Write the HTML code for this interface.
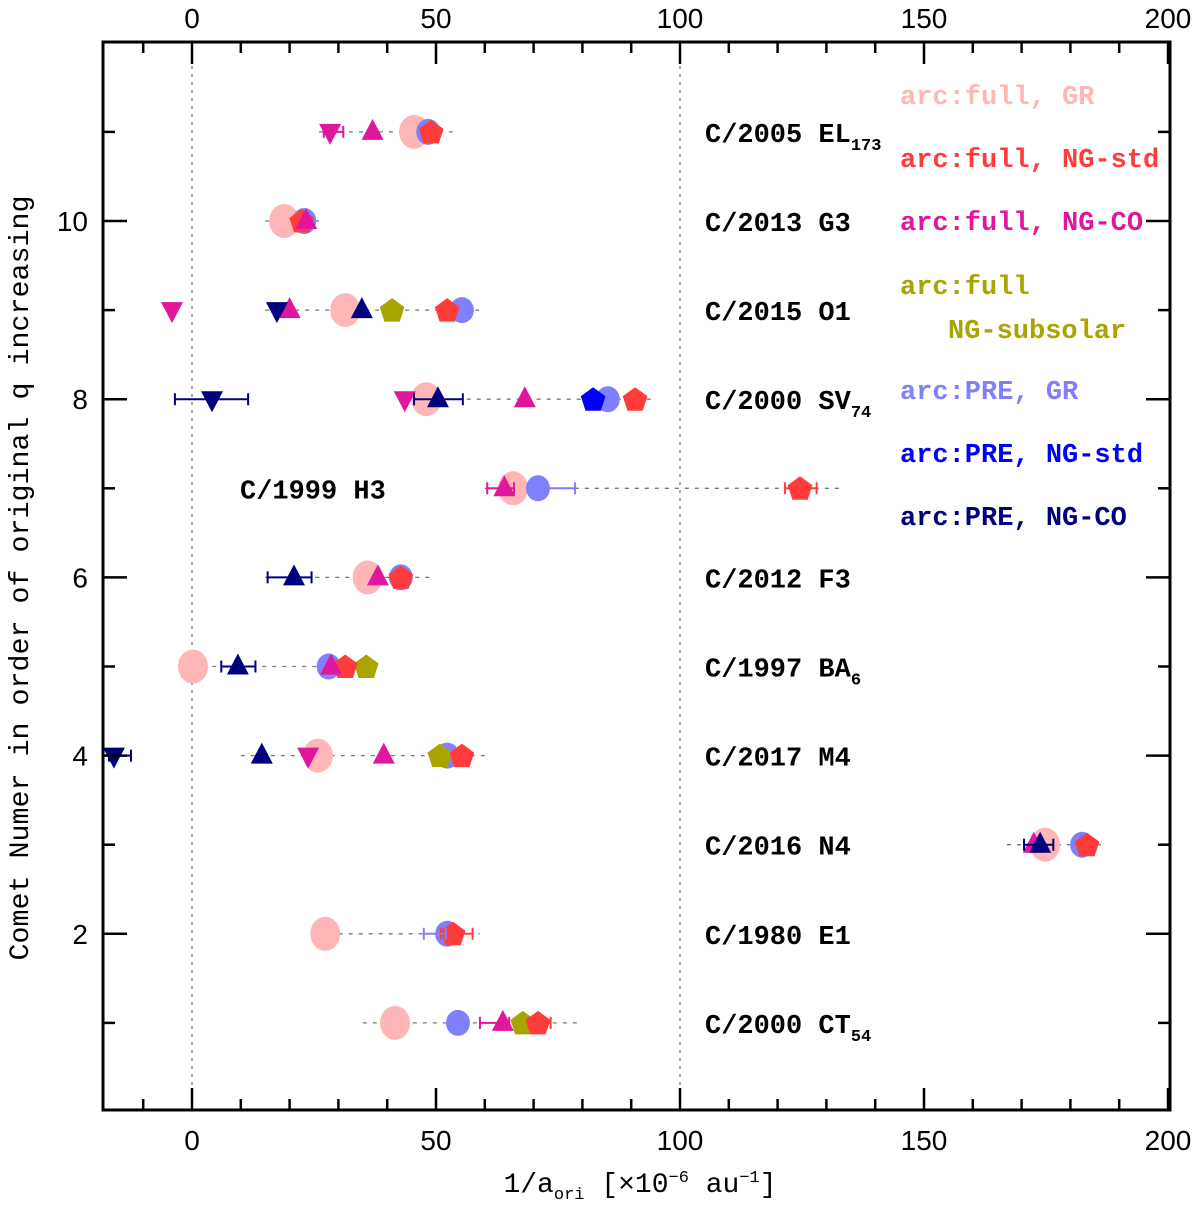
<!DOCTYPE html>
<html><head><meta charset="utf-8"><style>body{margin:0;background:#fff}svg{display:block}</style></head>
<body>
<svg id="c" width="1200" height="1206" xmlns="http://www.w3.org/2000/svg"></svg>
<script>
const comets=["C/2000 CT54","C/1980 E1","C/2016 N4","C/2017 M4","C/1997 BA6","C/2012 F3","C/1999 H3","C/2000 SV74","C/2015 O1","C/2013 G3","C/2005 EL173"];
const rowIdx=[1,2,3,4,5,6,7,8,9,10,11];
const lineMin=[35,28,167,10,-2,15,60,44,15,15,26];
const lineMax=[79,59,187,60,39,49,133,94,59,27,54];
const fullGR=[41.6,27.3,174.8,25.8,0.2,36,65.8,48,31.4,18.9,45.5];
const preGR=[54.5,52.3,182.4,52.3,28,42.8,70.9,85.2,55.3,23,48.4];
const fullNGstd=[70.9,53.5,183.4,55.3,31.4,42.8,124.6,90.8,52.3,22.5,49];
const fullNGCOup=[63.7,null,172.5,39.3,28.5,38.1,64,68.2,20,23.4,37];
const fullNGCOdown=[null,null,null,23.8,null,null,null,43.6,-4.1,null,28.3];
const subsolar=[67.8,null,null,50.8,35.7,null,null,null,41,null,null];
const preNGstd=[null,null,null,null,null,null,null,82.2,null,null,null];
const preNGCOup=[null,null,173.8,14.3,9.4,20.9,null,50.4,34.8,null,null];
const preNGCOdown=[null,null,null,-16,null,null,null,4.1,17.4,null,null];
const xTicks=[0,50,100,150,200];
const yTicks=[2,4,6,8,10];

const X0=192,XS=4.88,Y0=1112,YS=89.1;
const sx=v=>X0+v*XS, sy=n=>Y0-n*YS;
const svg=document.getElementById('c');const NS='http://www.w3.org/2000/svg';
function el(t,a,txt){const e=document.createElementNS(NS,t);for(const k in a)e.setAttribute(k,a[k]);if(txt!=null)e.textContent=txt;svg.appendChild(e);return e;}
const L=103,R=1170,T=42,B=1110;
[0,100].forEach(v=>{const g=el('line',{x1:sx(v),x2:sx(v),y1:T,y2:B,stroke:'#555','stroke-width':1,'stroke-dasharray':'3,5'});

});
rowIdx.forEach((r,i)=>{const g=el('line',{x1:sx(lineMin[i]),x2:sx(lineMax[i]),y1:sy(r),y2:sy(r),stroke:'#777','stroke-width':1.3,'stroke-dasharray':'4,6'});

});
function circ(arr,col,rx,ry,name){arr.forEach((v,i)=>{if(v==null)return;const e=el('ellipse',{cx:sx(v),cy:sy(rowIdx[i]),rx:rx,ry:ry,fill:col});

});}
function tri(arr,col,up,name){arr.forEach((v,i)=>{if(v==null)return;const x=sx(v),y=sy(rowIdx[i]);const p=up?`${x},${y-13} ${x-11},${y+8} ${x+11},${y+8}`:`${x},${y+13} ${x-11},${y-8} ${x+11},${y-8}`;const e=el('polygon',{points:p,fill:col});

});}
function pent(arr,col,name){arr.forEach((v,i)=>{if(v==null)return;const x=sx(v),y=sy(rowIdx[i]);let p=[];for(let k=0;k<5;k++){const a=-Math.PI/2+k*2*Math.PI/5;p.push((x+13*Math.cos(a)).toFixed(1)+','+(y+1+13*Math.sin(a)).toFixed(1));}const e=el('polygon',{points:p.join(' '),fill:col});

});}
circ(fullGR,'#ffb6b6',15,17,'arc-full-gr-point');
circ(preGR,'#8080ff',12,13,'arc-pre-gr-point');
pent(preNGstd,'#0000ff','arc-pre-ng-std-point');
pent(subsolar,'#a8a400','arc-full-ng-subsolar-point');
pent(fullNGstd,'#ff3b3b','arc-full-ng-std-point');
tri(fullNGCOup,'#e0169c',true,'arc-full-ng-co-point');
tri(fullNGCOdown,'#e0169c',false,'arc-full-ng-co-limit');
tri(preNGCOup,'#00007f',true,'arc-pre-ng-co-point');
tri(preNGCOdown,'#00007f',false,'arc-pre-ng-co-limit');
function eb(v1,v2,r,col){const y=sy(r);const g=el('path',{d:`M${sx(v1)},${y}H${sx(v2)}M${sx(v1)},${y-6}v12M${sx(v2)},${y-6}v12`,stroke:col,'stroke-width':2,fill:'none'});

}
eb(-3.5,11.5,8,'#00007f');eb(45.5,55.5,8,'#00007f');eb(-17,-12.5,4,'#00007f');eb(6,13,5,'#00007f');eb(15.5,24.5,6,'#00007f');
eb(70.9,78.5,7,'#8080ff');eb(121.5,128,7,'#ff3b3b');eb(60.5,66,7,'#e0169c');eb(51,57.5,2,'#ff3b3b');eb(47.5,52,2,'#8080ff');
eb(59,65,1,'#e0169c');eb(69,73.5,1,'#ff3b3b');eb(170.5,176.5,3,'#00007f');eb(27,31,11,'#e0169c');
const f=el('rect',{x:L,y:T,width:R-L,height:B-T,fill:'none',stroke:'#000','stroke-width':3});


for(let v=-10;v<=200;v+=10){const maj=v%50===0;const len=maj?22:11;
const t1=el('line',{x1:sx(v),x2:sx(v),y1:B,y2:B-len,stroke:'#000','stroke-width':2.5});


const t2=el('line',{x1:sx(v),x2:sx(v),y1:T,y2:T+len,stroke:'#000','stroke-width':2.5});

}
xTicks.forEach(v=>{const a=el('text',{x:sx(v),y:1150,'text-anchor':'middle','font-family':'Liberation Sans, sans-serif','font-size':28},String(v));


const b=el('text',{x:sx(v),y:28,'text-anchor':'middle','font-family':'Liberation Sans, sans-serif','font-size':28},String(v));

});
for(let n=1;n<=11;n++){const maj=n%2===0;const len=maj?24:12;
const t1=el('line',{x1:L,x2:L+len,y1:sy(n),y2:sy(n),stroke:'#000','stroke-width':2.5});


const t2=el('line',{x1:R,x2:R-len,y1:sy(n),y2:sy(n),stroke:'#000','stroke-width':2.5});

}
yTicks.forEach(n=>{const a=el('text',{x:88,y:sy(n)+10,'text-anchor':'end','font-family':'Liberation Sans, sans-serif','font-size':28},String(n));

});
const labX=[705,705,705,705,705,705,240,705,705,705,705];
rowIdx.forEach((r,i)=>{const t=el('text',{x:labX[i],y:sy(r)+10,'font-family':'Liberation Mono, monospace','font-size':27,'font-weight':'bold'});


let base=comets[i],sub='';if(/ [A-Z]{2}\d+$/.test(base)){sub=base.match(/\d+$/)[0];base=base.slice(0,-sub.length);}
const s1=document.createElementNS(NS,'tspan');s1.textContent=base;t.appendChild(s1);
if(sub){const s2=document.createElementNS(NS,'tspan');s2.setAttribute('font-size',17);s2.setAttribute('dy',8);s2.textContent=sub;t.appendChild(s2);}});
const legText=["arc:full, GR","arc:full, NG-std","arc:full, NG-CO","arc:full","NG-subsolar","arc:PRE, GR","arc:PRE, NG-std","arc:PRE, NG-CO"];
const legCol=['#ffb6b6','#ff3b3b','#e0169c','#a8a400','#a8a400','#8080ff','#0000ff','#00007f'];
const legY=[104,167,230,294,338,399,462,525];const legX=[900,900,900,900,948,900,900,900];
legText.forEach((s,i)=>{const t=el('text',{x:legX[i],y:legY[i],'font-family':'Liberation Mono, monospace','font-size':27,fill:legCol[i],'font-weight':'bold'},s);

});
const xt=el('text',{x:640,y:1192,'text-anchor':'middle','font-family':'Liberation Mono, monospace','font-size':28});


xt.innerHTML='1/a<tspan font-size="17" dy="7">ori</tspan><tspan dy="-7"> [×10</tspan><tspan font-size="17" dy="-10">−6</tspan><tspan dy="10"> au</tspan><tspan font-size="17" dy="-10">−1</tspan><tspan dy="10">]</tspan>';
const yt=el('text',{x:0,y:0,transform:'translate(28,578) rotate(-90)','text-anchor':'middle','font-family':'Liberation Mono, monospace','font-size':28,textLength:765,lengthAdjust:'spacingAndGlyphs'},'Comet Numer in order of original q increasing');


</script>
</body></html>
